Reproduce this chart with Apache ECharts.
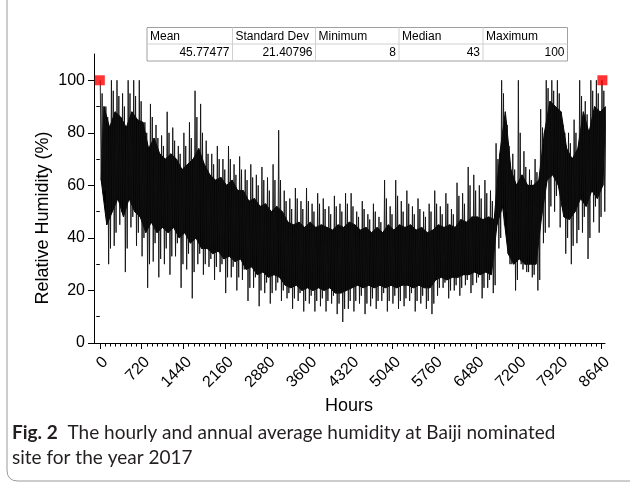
<!DOCTYPE html>
<html>
<head>
<meta charset="utf-8">
<script src="https://cdn.jsdelivr.net/npm/echarts@6/dist/echarts.min.js"></script>
<style>
html,body{margin:0;padding:0;background:#fff;}
#chart{width:630px;height:482px;}
</style>
</head>
<body>
<div id="chart"></div>
<script>
// ---- data (4-day bins of hourly humidity, %) ----
const HOURS_PER_BIN = 96;
// tallest spike in each bin
const binMax = [100,90,100,100,95,100,100,100,84,91,
  83,79,88,82,75,80,84,96,91,77,
  72,75,70,75,68,71,66,68,64,67,
  63,68,81,58,55,59,54,59,53,57,
  55,52,56,53,57,57,50,54,49,53,
  48,62,52,62,54,58,52,55,50,53,
  58,52,57,51,61,57,67,64,60,62,
  58,76,100,83,72,100,73,66,70,89,
  100,100,100,83,80,85,100,92,100,100,
  100];
// deepest dip in each bin
const binMin = [57,30,37,45,27,44,37,33,21,31,
  25,30,26,33,21,28,17,30,26,29,
  24,27,19,25,20,24,16,21,14,19,
  15,20,16,17,13,16,12,15,12,14,
  12,15,11,8,13,12,15,11,14,13,
  16,12,15,13,14,16,12,15,13,11,
  18,21,17,20,18,22,19,23,17,21,
  19,36,45,30,20,30,27,25,20,38,
  44,50,44,34,30,38,42,32,46,42,
  50];
// secondary peaks (grey fringe above the dense band)
const binPeak2 = [95,86,96,94,90,95,94,92,80,86,
  78,75,80,77,72,75,78,86,80,72,
  68,70,66,70,64,66,62,63,60,62,
  58,62,62,54,51,55,51,54,50,53,
  51,49,52,50,53,52,48,51,47,50,
  46,55,49,56,50,53,49,51,48,50,
  53,49,53,49,56,53,60,58,55,57,
  54,70,95,75,66,80,67,62,65,82,
  97,96,95,80,76,80,94,87,96,95,
  96];
// secondary dips (grey fringe below the dense band)
const binDip2 = [58,36,42,50,36,48,42,40,30,38,
  32,36,33,38,30,34,27,34,30,32,
  29,30,25,29,25,28,21,25,20,23,
  19,23,20,19,17,19,16,18,16,17,
  16,18,15,13,16,16,18,15,17,16,
  19,16,18,16,17,19,16,18,16,15,
  21,23,20,22,21,24,22,25,21,24,
  22,40,50,30,24,28,27,26,24,42,
  52,56,52,40,37,43,48,40,52,48,
  55];
// dense black band: upper and lower edge
const binCoreHigh = [90,82,88,86,82,88,85,84,74,78,
  72,70,72,70,66,68,70,74,68,64,
  62,63,60,62,58,58,54,55,52,53,
  50,52,50,46,45,46,44,46,44,45,
  44,43,45,44,46,45,43,44,42,44,
  42,45,43,45,44,45,43,44,42,43,
  45,44,45,44,47,46,48,48,47,48,
  47,72,88,66,60,64,60,60,62,80,
  92,90,88,74,70,74,88,80,90,88,
  90];
const binCoreLow = [62,45,50,55,48,55,50,48,42,46,
  42,44,42,44,40,42,38,40,36,36,
  34,35,32,33,31,32,28,29,26,27,
  25,26,25,22,21,22,20,21,20,21,
  20,21,19,19,20,21,22,21,22,21,
  22,21,22,21,22,22,21,22,21,21,
  24,25,24,25,25,26,26,27,26,27,
  26,45,52,34,30,32,30,30,30,48,
  62,64,60,48,47,50,55,52,58,55,
  60];
const maxPoints = [[0,100],[8655,100]];
const xTickLabels = [0,720,1440,2160,2880,3600,4320,5040,5760,6480,7200,7920,8640];
const yTickLabels = [0,20,40,60,80,100];
const statHeaders = ['Mean','Standard Dev','Minimum','Median','Maximum'];
const statValues = ['45.77477','21.40796','8','43','100'];

// ---- build series ----
const linePts = [];
const coreUpper = [];
const coreLower = [];
for (let i = 0; i < binMax.length; i++) {
  const s = i * HOURS_PER_BIN;
  linePts.push([s + 8, binMax[i]]);
  linePts.push([s + 24, binCoreLow[i]]);
  linePts.push([s + 40, binPeak2[i]]);
  linePts.push([s + 56, binMin[i]]);
  linePts.push([s + 72, binCoreHigh[i]]);
  linePts.push([s + 88, binDip2[i]]);
  coreUpper.push([s + 72, binCoreHigh[i]]);
  coreLower.push([s + 24, binCoreLow[i]]);
}
const xMinor = [];
for (let v = 0; v <= 8700; v += 90) if (v % 720 !== 0) xMinor.push(v);
const yMinor = [10,30,50,70,90];

const FONT = '"Liberation Sans", Arial, sans-serif';
const CAP_FONT = 'Lato, "Open Sans", sans-serif';

// ---- table graphic ----
const colX = [147, 232.5, 315.5, 399, 483, 567.5];
const rowY = [27.5, 44, 61];
const tableEls = [];
tableEls.push({type:'rect', shape:{x:colX[0], y:rowY[0], width:colX[5]-colX[0], height:rowY[2]-rowY[0]},
  style:{fill:'#fff', stroke:'#a0a0a0', lineWidth:1}});
tableEls.push({type:'line', shape:{x1:colX[0], y1:rowY[1], x2:colX[5], y2:rowY[1]}, style:{stroke:'#d0d0d0', lineWidth:1}});
for (let c = 1; c < 5; c++) {
  tableEls.push({type:'line', shape:{x1:colX[c], y1:rowY[0], x2:colX[c], y2:rowY[2]}, style:{stroke:'#d0d0d0', lineWidth:1}});
}
for (let c = 0; c < 5; c++) {
  tableEls.push({type:'text', style:{text:statHeaders[c], x:colX[c]+3, y:(rowY[0]+rowY[1])/2+0.5, fill:'#000',
    font:'12px ' + FONT, textAlign:'left', textVerticalAlign:'middle'}});
  tableEls.push({type:'text', style:{text:statValues[c], x:colX[c+1]-3, y:(rowY[1]+rowY[2])/2+0.5, fill:'#000',
    font:'12px ' + FONT, textAlign:'right', textVerticalAlign:'middle'}});
}

const chart = echarts.init(document.getElementById('chart'), null, {renderer:'canvas'});
const option = {
  animation: false,
  backgroundColor: '#fff',
  grid: {left: 94, right: 25, top: 54, bottom: 139, containLabel: false},
  xAxis: [{
    type:'value', min:-100, max:8700, position:'bottom',
    axisLine:{show:true, onZero:false, lineStyle:{color:'#000', width:1}},
    axisTick:{show:true, inside:false, length:6, customValues:xTickLabels, lineStyle:{color:'#000', width:1}},
    axisLabel:{show:true, customValues:xTickLabels, rotate:45, margin:11, verticalAlign:'top',
      formatter: v => String(v), fontSize:16, fontFamily:FONT, color:'#000'},
    splitLine:{show:false}
  },{
    type:'value', min:-100, max:8700, position:'bottom',
    axisLine:{show:false},
    axisTick:{show:true, inside:false, length:3.5, customValues:xMinor, lineStyle:{color:'#000', width:1}},
    axisLabel:{show:false}, splitLine:{show:false}
  }],
  yAxis: [{
    type:'value', min:0, max:110, position:'left',
    axisLine:{show:true, onZero:false, lineStyle:{color:'#000', width:1}},
    axisTick:{show:true, inside:false, length:6, customValues:yTickLabels, lineStyle:{color:'#000', width:1}},
    axisLabel:{show:true, customValues:yTickLabels, margin:9, fontSize:16, fontFamily:FONT, color:'#000'},
    splitLine:{show:false}
  },{
    type:'value', min:0, max:110, position:'left',
    axisLine:{show:false},
    axisTick:{show:true, inside:false, length:3.5, customValues:yMinor, lineStyle:{color:'#000', width:1}},
    axisLabel:{show:false}, splitLine:{show:false}
  }],
  series: [{
    type:'custom', xAxisIndex:0, yAxisIndex:0, data:[[0,0]], clip:true, z:1, silent:true,
    renderItem: function (params, api) {
      const up = coreUpper.map(p => api.coord(p));
      const lo = coreLower.map(p => api.coord(p)).reverse();
      return {type:'polygon', shape:{points: up.concat(lo)}, style:{fill:'#000', stroke:'#000', lineWidth:1}};
    }
  },{
    type:'line', xAxisIndex:0, yAxisIndex:0, data:linePts, symbol:'none',
    lineStyle:{color:'#111', width:0.9}, clip:true, z:2
  },{
    type:'scatter', xAxisIndex:0, yAxisIndex:0, data:maxPoints, symbol:'rect', symbolSize:10,
    itemStyle:{color:'#ff0000'}, clip:false, z:5
  }],
  graphic: [
    {type:'group', children: tableEls, z:10},
    {type:'text', style:{text:'Hours', x:349, y:406, font:'18px ' + FONT, fill:'#000', textAlign:'center', textVerticalAlign:'middle'}},
    {type:'text', rotation:Math.PI/2, x:43, y:218, style:{text:'Relative Humidity (%)', x:0, y:0, font:'18px ' + FONT, fill:'#000', textAlign:'center', textVerticalAlign:'middle'}},
    {type:'text', style:{x:12, y:433, textVerticalAlign:'middle',
      text:'{b|Fig. 2}  The hourly and annual average humidity at Baiji nominated',
      font:'19px ' + CAP_FONT, fill:'#231f20',
      rich:{b:{fontWeight:'bold', fontSize:19, fontFamily:CAP_FONT, fill:'#231f20'}}}},
    {type:'text', style:{x:12, y:458, textVerticalAlign:'middle', text:'site for the year 2017',
      font:'19px ' + CAP_FONT, fill:'#231f20'}},
    {type:'line', shape:{x1:7, y1:0, x2:7, y2:470}, style:{stroke:'#9a9a9a', lineWidth:1}},
    {type:'bezierCurve', shape:{x1:7, y1:470, cpx1:7, cpy1:481, x2:18, y2:481}, style:{fill:null, stroke:'#9a9a9a', lineWidth:1}},
    {type:'line', shape:{x1:18, y1:481, x2:630, y2:481}, style:{stroke:'#9a9a9a', lineWidth:1}}
  ]
};
chart.setOption(option);
</script>
</body>
</html>
